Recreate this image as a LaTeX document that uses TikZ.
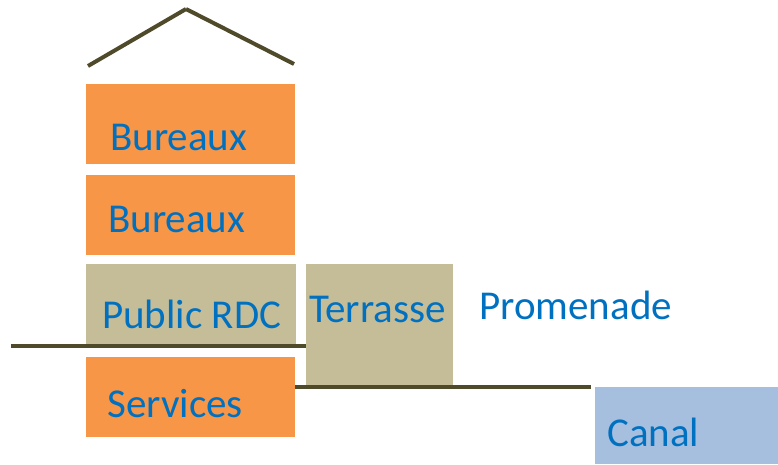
\documentclass[tikz,border=0pt]{standalone}
\usepackage{fontspec}
\setmainfont{Carlito}
\definecolor{orng}{HTML}{F79646}
\definecolor{tan}{HTML}{C4BD97}
\definecolor{canal}{HTML}{A7BFDE}
\definecolor{txtblue}{HTML}{0070C0}
\definecolor{lineol}{HTML}{4F4A2A}
\begin{document}
\begin{tikzpicture}[x=1pt,y=-1pt,
  box/.style={draw=none,inner sep=0pt,outer sep=0pt},
  lbl/.style={anchor=base west,inner sep=0pt,text=txtblue,font=\fontsize{41}{49}\selectfont},
  ground/.style={draw=lineol,line width=4pt}]
\useasboundingbox (0,0) rectangle (778,464);
% boxes
\fill[orng] (86,84) rectangle (295,164);
\node[box] (bur1) at (190.5,124) {};
\fill[orng] (86,175) rectangle (295,255);
\node[box] (bur2) at (190.5,215) {};
\fill[tan] (86,264) rectangle (296,345);
\node[box] (pub) at (191,304) {};
\fill[orng] (86,357) rectangle (295,437);
\node[box] (serv) at (190.5,397) {};
\fill[tan] (306,264) rectangle (453,385);
\node[box] (terr) at (379.5,324) {};
\fill[canal] (595,387) rectangle (778,464);
\node[box] (can) at (686,425) {};
% lines
\coordinate (rl) at (88,66);
\coordinate (ra) at (186,9);
\coordinate (rr) at (294,64);
\draw[ground] (rl) -- (ra);
\draw[ground] (ra) -- (rr);
\coordinate (g1a) at (11,346);
\coordinate (g1b) at (306,346);
\draw[ground] (g1a) -- (g1b);
\coordinate (g2a) at (295,387);
\coordinate (g2b) at (591,387);
\draw[ground] (g2a) -- (g2b);
% texts
\node[lbl] (t1) at (110,150) {Bureaux};
\node[lbl] (t2) at (108,232) {Bureaux};
\node[lbl] (t3) at (102,328) {Public RDC};
\node[lbl] (t4) at (107,417) {Services};
\node[lbl] (t5) at (309,322) {Terrasse};
\node[lbl] (t6) at (479,319) {Promenade};
\node[lbl] (t7) at (607,446) {Canal};
\end{tikzpicture}
\end{document}
